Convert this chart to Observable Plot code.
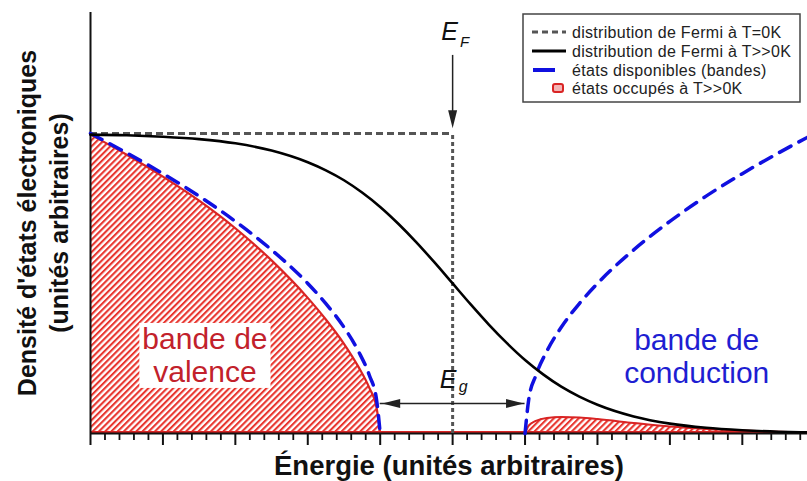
<!DOCTYPE html>
<html><head><meta charset="utf-8">
<script src="https://cdn.jsdelivr.net/npm/d3@7"></script>
<script src="https://cdn.jsdelivr.net/npm/@observablehq/plot@0.6"></script>
<style>body{margin:0;background:#fff} svg{display:block}</style>
</head><body><div id="chart"></div>
<script>
// ---- data (energy in arbitrary units, density in arbitrary units) ----
const xMajorTicks = [0, 1, 2, 3, 4, 5, 6, 7, 8, 9];
const xMinorTicks = [0.2,0.4,0.6,0.8,1.2,1.4,1.6,1.8,2.2,2.4,2.6,2.8,3.2,3.4,3.6,3.8,4.2,4.4,4.6,4.8,5.2,5.4,5.6,5.8,6.2,6.4,6.6,6.8,7.2,7.4,7.6,7.8,8.2,8.4,8.6,8.8,9.2,9.4,9.6,9.8];

const fermiLevel = 5;      // E_F
const valenceTop = 4;      // top of valence band
const conductionBottom = 6;// bottom of conduction band
const fermiZeroLevel = 1;  // Fermi distribution at T=0K (plateau)

const fermiEnergy = [0,0.5,1,1.5,2,2.5,3,3.25,3.5,3.75,4,4.25,4.5,4.75,5,5.25,5.5,5.75,6,6.25,6.5,6.75,7,7.5,8,8.5,9,9.5,9.9];
const fermiHot    = [0.996,0.994,0.989,0.981,0.967,0.943,0.904,0.877,0.844,0.803,0.755,0.699,0.637,0.570,0.5,0.430,0.363,0.301,0.245,0.197,0.156,0.123,0.096,0.057,0.033,0.019,0.011,0.006,0.004];

const valenceEnergy = [0,0.5,1,1.5,2,2.5,3,3.25,3.5,3.7,3.85,3.95,4];
const valenceStates = [1.0,0.935,0.866,0.791,0.707,0.612,0.5,0.433,0.354,0.274,0.194,0.112,0];
const valenceOccupied = [0.996,0.929,0.856,0.776,0.684,0.577,0.452,0.380,0.299,0.222,0.152,0.086,0];

const conductionEnergy = [6,6.05,6.15,6.3,6.5,6.75,7,7.5,8,8.5,9,9.5,9.9];
const conductionStates = [0,0.112,0.194,0.274,0.354,0.433,0.5,0.612,0.707,0.791,0.866,0.935,0.987];
const conductionOccupied = [0,0.026,0.042,0.052,0.055,0.053,0.048,0.035,0.023,0.015,0.0096,0.0059,0.0039];

const legendLabels = ["distribution de Fermi à T=0K", "distribution de Fermi à T>>0K", "états disponibles (bandes)", "états occupés à T>>0K"];
const xLabel = "Énergie (unités arbitraires)";
const yLabel1 = "Densité d'états électroniques";
const yLabel2 = "(unités arbitraires)";

// ---- styles ----
const FONT = "'Liberation Sans', Arial, Helvetica, sans-serif";
const RED = "#d92424";
const BLUE = "#1010e0";
const GRAY = "#555555";
const HATCH = "url(#hatch-red)";

const arrowHead = {draw(ctx){ ctx.moveTo(0,0); ctx.lineTo(-4.5,18); ctx.lineTo(4.5,18); ctx.closePath(); }};

const chart = Plot.plot({
  width: 807, height: 481,
  marginLeft: 90, marginRight: 0, marginTop: 12, marginBottom: 48,
  x: {domain: [0, 9.9], label: null},
  y: {domain: [0, 1.403], axis: null, label: null},
  style: {fontFamily: FONT, background: "white", overflow: "visible"},
  marks: [
    // occupied states (hatched)
    Plot.areaY(valenceEnergy, {x: valenceEnergy, y: valenceOccupied, fill: HATCH, curve: "monotone-x"}),
    Plot.areaY(conductionEnergy, {x: conductionEnergy, y: conductionOccupied, fill: HATCH, curve: "monotone-x"}),
    Plot.ruleY([0], {stroke: RED, strokeWidth: 2, dy: -1.5}),
    Plot.lineY(valenceEnergy, {x: valenceEnergy, y: valenceOccupied, stroke: RED, strokeWidth: 2.2, curve: "monotone-x"}),
    Plot.lineY(conductionEnergy, {x: conductionEnergy, y: conductionOccupied, stroke: RED, strokeWidth: 2, curve: "monotone-x"}),
    // band labels
    Plot.text([{label: "bande de\nvalence", e: 1.58, v: 0.262}], {x: "e", y: "v", text: "label", fontSize: 30, fill: "#c2212b", lineHeight: 1.1}),
    Plot.text([{label: "bande de\nconduction", e: 8.37, v: 0.257}], {x: "e", y: "v", text: "label", fontSize: 30, fill: "#1e1ed2", lineHeight: 1.1, letterSpacing: 0.4}),
    // axes
    Plot.axisX(xMinorTicks, {tickSize: 7, strokeWidth: 1.8, stroke: "#111", tickFormat: () => ""}),
    Plot.axisX(xMajorTicks, {tickSize: 12, strokeWidth: 2, stroke: "#111", tickFormat: () => ""}),
    Plot.ruleX([0], {stroke: "#111", strokeWidth: 2}),
    Plot.ruleY([0], {stroke: "#111", strokeWidth: 2}),
    // Fermi distribution at T=0K
    Plot.ruleY([fermiZeroLevel], {x1: 0, x2: fermiLevel, stroke: GRAY, strokeWidth: 3, strokeDasharray: "7,4"}),
    Plot.ruleX([fermiLevel], {y1: 0, y2: fermiZeroLevel, stroke: GRAY, strokeWidth: 3, strokeDasharray: "4,3"}),
    // available states (bands)
    Plot.lineY(valenceEnergy, {x: valenceEnergy, y: valenceStates, stroke: BLUE, strokeWidth: 3.5, strokeDasharray: "13,9", curve: "monotone-x"}),
    Plot.lineY(conductionEnergy, {x: conductionEnergy, y: conductionStates, stroke: BLUE, strokeWidth: 3.5, strokeDasharray: "13,9", curve: "monotone-x"}),
    // Fermi distribution at T>>0K
    Plot.lineY(fermiEnergy, {x: fermiEnergy, y: fermiHot, stroke: "#000", strokeWidth: 2.6, curve: "monotone-x"}),
    // E_F arrow
    Plot.ruleX([fermiLevel], {y1: 1.26, y2: 1.05, stroke: "#222", strokeWidth: 1.5}),
    Plot.dot([fermiLevel], {x: d => d, y: () => 1.017, symbol: arrowHead, rotate: 180, fill: "#222", stroke: "none"}),
    Plot.text(["E"], {x: () => fermiLevel, y: () => 1.31, dx: -3, fontSize: 25, fontStyle: "italic", fill: "#111", lineAnchor: "bottom"}),
    Plot.text(["F"], {x: () => fermiLevel, y: () => 1.287, dx: 12, fontSize: 15, fontStyle: "italic", fill: "#111", lineAnchor: "bottom"}),
    // E_g arrow
    Plot.ruleY([0.1], {x1: valenceTop, x2: conductionBottom, inset: 0, stroke: "#222", strokeWidth: 1.5}),
    Plot.dot([valenceTop], {x: d => d, y: () => 0.1, dx: 2, symbol: arrowHead, rotate: -90, fill: "#222", stroke: "none"}),
    Plot.dot([conductionBottom], {x: d => d, y: () => 0.1, dx: -1, symbol: arrowHead, rotate: 90, fill: "#222", stroke: "none"}),
    Plot.text(["E"], {x: () => fermiLevel, y: () => 0.153, dx: -4.5, fontSize: 25, fontStyle: "italic", fill: "#111", lineAnchor: "bottom"}),
    Plot.text(["g"], {x: () => fermiLevel, y: () => 0.137, dx: 10.5, fontSize: 16, fontStyle: "italic", fill: "#111", lineAnchor: "bottom"}),
    // axis titles
    Plot.text([xLabel], {frameAnchor: "bottom", dy: 33, textAnchor: "middle", lineAnchor: "middle", fontSize: 27.5, fontWeight: "bold", fill: "#111"}),
    Plot.text([yLabel1], {frameAnchor: "left", dx: -63, rotate: -90, textAnchor: "middle", lineAnchor: "middle", fontSize: 25, fontWeight: "bold", fill: "#111"}),
    Plot.text([yLabel2], {frameAnchor: "left", dx: -31, rotate: -90, textAnchor: "middle", lineAnchor: "middle", fontSize: 25, fontWeight: "bold", fill: "#111"})
  ]
});

document.getElementById("chart").appendChild(chart);
const svg = d3.select(chart);

// hatch pattern
const defs = svg.insert("defs", ":first-child");
const pat = defs.append("pattern").attr("id", "hatch-red").attr("patternUnits", "userSpaceOnUse")
  .attr("width", 4.4).attr("height", 4.4).attr("patternTransform", "rotate(45)");
pat.append("rect").attr("width", 4.4).attr("height", 4.4).attr("fill", "white");
pat.append("rect").attr("width", 2.1).attr("height", 4.4).attr("fill", "#e8362f");

// white box behind "bande de valence"
svg.selectAll("text").filter(function(){ return this.textContent.includes("valence"); }).each(function(){
  const b = this.getBBox();
  const r = d3.select(this.parentNode).insert("rect", ":first-child")
    .attr("x", b.x - 3).attr("y", b.y + 1).attr("width", b.width + 6).attr("height", b.height - 1)
    .attr("fill", "white");
  const tr = this.getAttribute("transform");
  if (tr) r.attr("transform", tr);
});

// legend
const lg = svg.append("g").attr("font-family", FONT).attr("font-size", 16).attr("fill", "#222").attr("text-anchor", "start");
lg.append("rect").attr("x", 523).attr("y", 14).attr("width", 277).attr("height", 88)
  .attr("fill", "white").attr("stroke", "#444").attr("stroke-width", 1.5);
const rowsY = [32, 51, 70, 88];
lg.append("line").attr("x1", 532).attr("x2", 566).attr("y1", rowsY[0]).attr("y2", rowsY[0])
  .attr("stroke", GRAY).attr("stroke-width", 3).attr("stroke-dasharray", "6,4");
lg.append("line").attr("x1", 532).attr("x2", 566).attr("y1", rowsY[1]).attr("y2", rowsY[1])
  .attr("stroke", "#000").attr("stroke-width", 3);
lg.append("line").attr("x1", 533).attr("x2", 555).attr("y1", rowsY[2]).attr("y2", rowsY[2])
  .attr("stroke", BLUE).attr("stroke-width", 4);
lg.append("rect").attr("x", 553).attr("y", rowsY[3] - 4).attr("width", 10).attr("height", 8).attr("rx", 2)
  .attr("fill", "#f3b5b5").attr("stroke", RED).attr("stroke-width", 2);
legendLabels.forEach((t, i) => {
  lg.append("text").attr("x", 572).attr("y", rowsY[i]).attr("dy", "0.36em").attr("letter-spacing", 0.3).text(t);
});
</script></body></html>
